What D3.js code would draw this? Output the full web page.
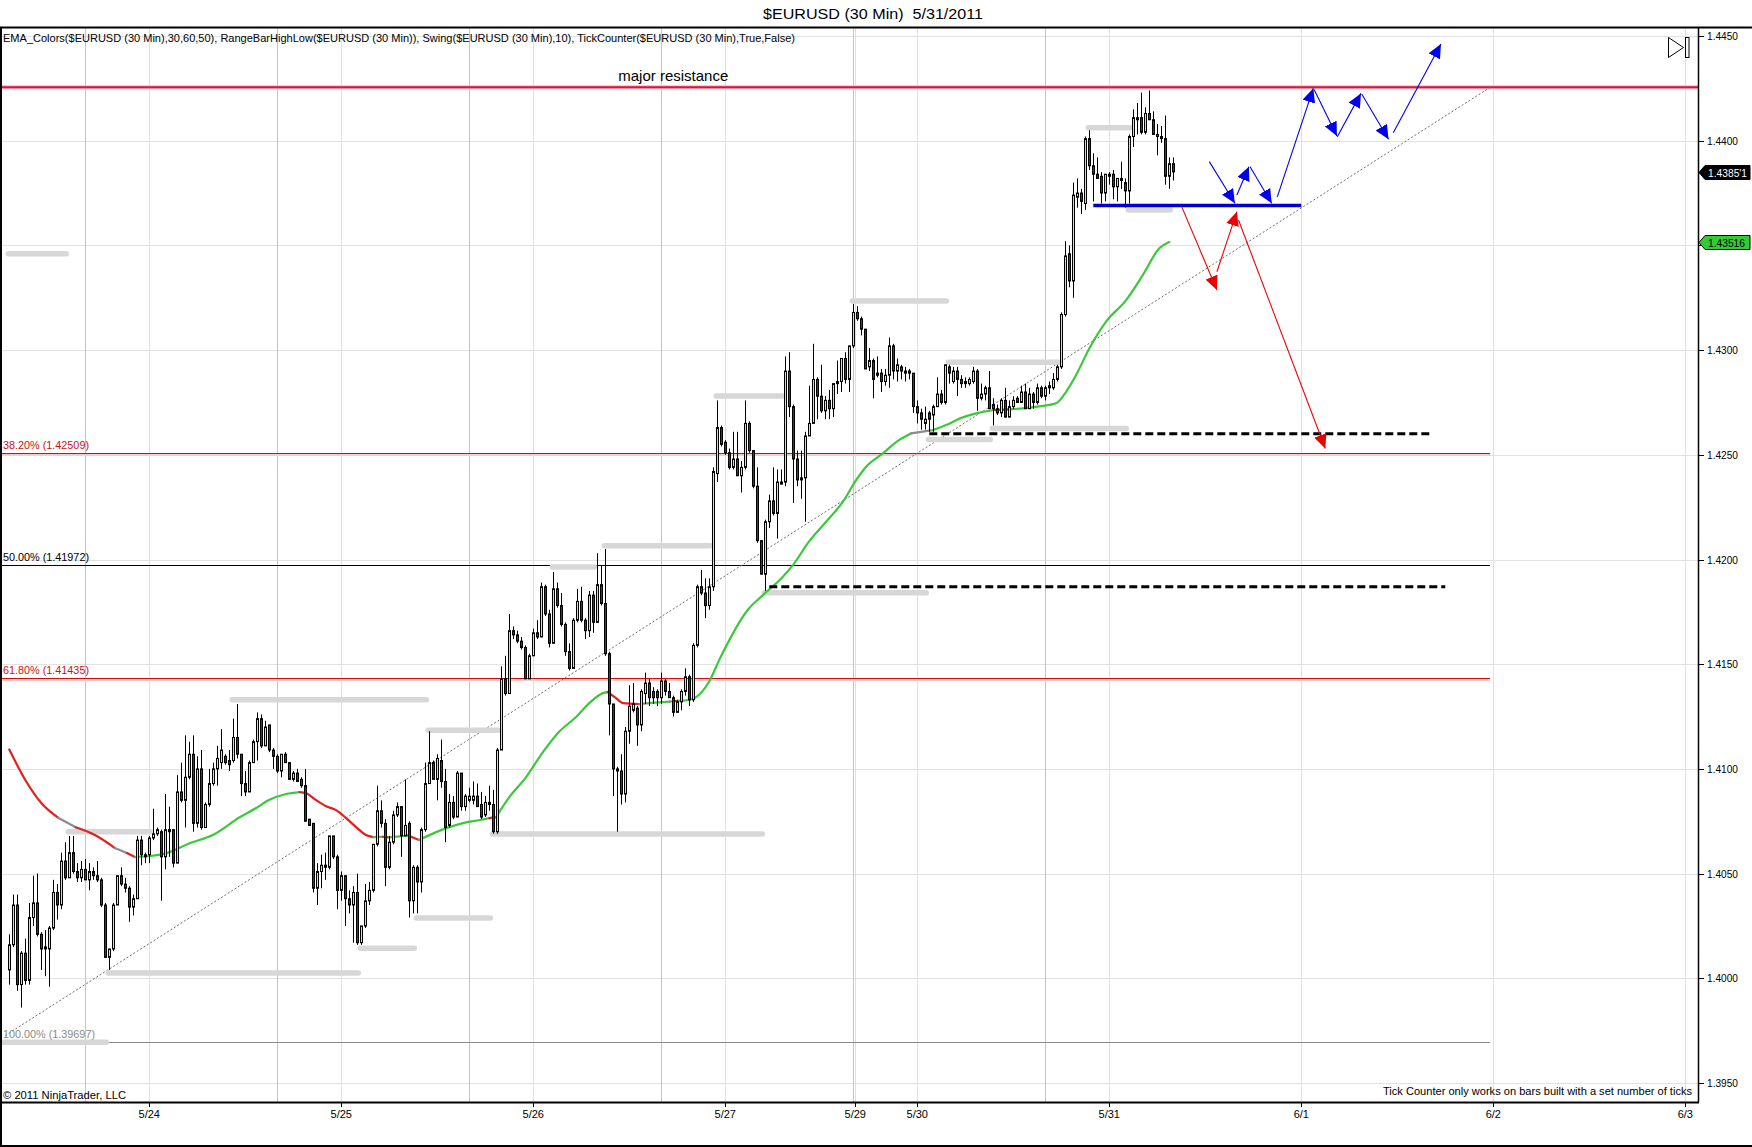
<!DOCTYPE html>
<html>
<head>
<meta charset="utf-8">
<script src="https://d3js.org/d3.v7.min.js"></script>
<style>
html, body { margin: 0; padding: 0; background: #fff; }
svg { display: block; font-family: Arial, "Liberation Sans", sans-serif; }
</style>
</head>
<body>
<script>
// ---- données (prix en pips : 4004 => 1.4004) ----
const opens = [
4004,4016,4035,3997,4012,3999,4029,4036,4021,4015,
4014,4024,4041,4035,4056,4048,4060,4051,4048,4052,
4047,4051,4049,4047,4035,4010,4014,4035,4049,4045,
4043,4034,4038,4066,4058,4059,4067,4069,4070,4058,
4071,4071,4055,4089,4085,4096,4107,4074,4100,4072,
4083,4093,4100,4103,4106,4104,4104,4115,4107,4093,
4089,4103,4113,4124,4111,4121,4109,4106,4099,4107,
4103,4095,4098,4095,4092,4076,4074,4043,4051,4053,
4053,4068,4058,4042,4049,4038,4035,4041,4017,4025,
4037,4042,4064,4080,4074,4053,4065,4078,4082,4068,
4074,4037,4053,4046,4071,4093,4103,4095,4104,4094,
4073,4084,4077,4098,4082,4085,4085,4087,4083,4078,
4083,4083,4070,4109,4143,4136,4166,4164,4161,4158,
4143,4154,4165,4163,4187,4174,4160,4186,4178,4169,
4156,4148,4171,4180,4171,4166,4183,4170,4188,4179,
4155,4131,4100,4099,4088,4118,4128,4129,4121,4136,
4141,4137,4137,4134,4142,4137,4134,4127,4132,4137,
4144,4133,4159,4187,4184,4178,4187,4241,4263,4256,
4251,4244,4248,4240,4244,4265,4252,4235,4209,4193,
4218,4228,4222,4236,4237,4290,4273,4248,4238,4239,
4259,4265,4286,4278,4271,4276,4272,4284,4285,4296,
4286,4302,4318,4315,4310,4292,4295,4289,4289,4285,
4288,4302,4290,4292,4289,4290,4289,4273,4270,4265,
4270,4269,4273,4279,4275,4292,4285,4290,4286,4284,
4284,4285,4290,4277,4279,4282,4274,4272,4270,4276,
4268,4273,4277,4275,4280,4272,4279,4275,4282,4278,
4282,4282,4286,4292,4317,4346,4333,4373,4375,4370,
4401,4388,4384,4383,4375,4383,4384,4378,4381,4380,
4376,4402,4410,4411,4404,4413,4410,4403,4402,4401,
4383,4389];

const highs = [
4021,4040,4040,4013,4019,4036,4049,4050,4022,4023,
4025,4047,4045,4060,4065,4068,4068,4055,4056,4057,
4055,4053,4056,4048,4036,4014,4036,4049,4053,4048,
4044,4040,4068,4068,4060,4068,4081,4072,4071,4088,
4082,4071,4097,4103,4116,4113,4116,4106,4109,4084,
4100,4103,4111,4119,4107,4109,4124,4131,4107,4099,
4104,4114,4127,4126,4123,4121,4110,4107,4107,4108,
4103,4099,4100,4096,4100,4076,4074,4055,4059,4060,
4068,4068,4059,4051,4049,4042,4044,4050,4025,4045,
4046,4064,4092,4085,4076,4068,4080,4084,4082,4095,
4075,4054,4054,4072,4103,4118,4104,4107,4114,4100,
4088,4087,4099,4098,4088,4091,4094,4093,4089,4087,
4092,4090,4110,4149,4154,4174,4168,4166,4163,4159,
4155,4167,4171,4189,4188,4176,4194,4189,4184,4170,
4160,4172,4186,4187,4172,4185,4185,4203,4197,4205,
4156,4131,4101,4107,4120,4140,4141,4130,4138,4146,
4143,4139,4138,4146,4143,4141,4135,4133,4138,4148,
4145,4160,4188,4195,4191,4191,4244,4276,4264,4257,
4253,4261,4261,4247,4276,4266,4252,4244,4209,4219,
4231,4244,4243,4243,4297,4299,4274,4252,4252,4261,
4283,4303,4287,4293,4278,4281,4284,4295,4296,4299,
4302,4322,4321,4316,4310,4301,4296,4297,4291,4291,
4306,4303,4296,4293,4292,4291,4289,4276,4272,4273,
4271,4274,4287,4281,4293,4293,4292,4292,4288,4287,
4287,4292,4291,4284,4283,4290,4277,4274,4277,4282,
4276,4278,4278,4283,4284,4282,4280,4284,4283,4283,
4285,4289,4293,4318,4352,4350,4380,4382,4377,4402,
4405,4394,4392,4385,4384,4385,4386,4382,4390,4382,
4403,4415,4418,4423,4416,4424,4414,4408,4407,4412,
4392,4392];

const lows = [
3997,4015,3994,3986,3997,3997,4025,4020,4004,4001,
3996,4023,4028,4033,4047,4048,4050,4046,4046,4047,
4042,4047,4046,4034,4010,4004,4013,4035,4044,4041,
4027,4030,4038,4054,4055,4055,4066,4068,4037,4052,
4058,4053,4055,4084,4072,4095,4070,4072,4071,4072,
4082,4092,4092,4100,4102,4099,4103,4105,4087,4087,
4089,4103,4104,4110,4111,4108,4100,4098,4096,4103,
4095,4094,4094,4091,4075,4073,4041,4035,4043,4047,
4052,4057,4033,4037,4025,4031,4017,4016,4016,4024,
4035,4041,4063,4072,4044,4052,4064,4077,4058,4068,
4029,4031,4031,4041,4070,4093,4095,4085,4091,4065,
4072,4076,4077,4080,4080,4084,4083,4082,4076,4077,
4080,4069,4069,4109,4135,4136,4162,4160,4157,4143,
4143,4154,4162,4163,4173,4158,4160,4177,4168,4154,
4147,4148,4170,4170,4162,4163,4165,4170,4178,4154,
4116,4087,4070,4083,4084,4112,4127,4111,4118,4131,
4130,4131,4130,4131,4135,4134,4125,4127,4128,4135,
4130,4132,4158,4183,4172,4176,4185,4237,4254,4250,
4243,4243,4240,4232,4243,4251,4234,4208,4193,4185,
4215,4221,4210,4236,4235,4268,4227,4235,4229,4218,
4259,4265,4267,4270,4267,4267,4268,4279,4280,4284,
4280,4301,4314,4307,4291,4290,4277,4287,4280,4283,
4282,4286,4285,4286,4285,4286,4270,4265,4262,4262,
4261,4261,4273,4274,4274,4284,4284,4278,4282,4282,
4283,4284,4271,4276,4276,4272,4264,4269,4268,4268,
4268,4272,4275,4275,4272,4272,4272,4274,4277,4276,
4279,4281,4285,4291,4316,4330,4325,4368,4365,4367,
4386,4371,4382,4370,4371,4379,4372,4371,4377,4368,
4370,4397,4403,4403,4403,4410,4403,4393,4399,4379,
4377,4381];

const closes = [
4016,4035,3997,4012,3999,4029,4036,4021,4014,4014,
4024,4041,4035,4056,4048,4060,4051,4048,4052,4047,
4051,4049,4047,4035,4010,4014,4035,4049,4045,4043,
4034,4038,4066,4059,4059,4067,4069,4071,4058,4071,
4070,4055,4089,4085,4096,4107,4074,4100,4072,4083,
4093,4100,4105,4109,4103,4102,4115,4107,4093,4089,
4103,4113,4124,4111,4120,4109,4106,4099,4107,4103,
4095,4098,4094,4092,4075,4073,4043,4051,4054,4054,
4068,4058,4042,4049,4038,4035,4041,4017,4025,4037,
4042,4064,4080,4074,4053,4065,4078,4082,4068,4073,
4037,4053,4046,4071,4093,4103,4095,4105,4094,4072,
4084,4077,4098,4082,4087,4087,4087,4082,4077,4084,
4084,4070,4109,4143,4136,4166,4164,4161,4158,4143,
4154,4165,4163,4187,4174,4160,4186,4178,4169,4156,
4148,4171,4180,4171,4166,4183,4170,4188,4179,4155,
4131,4100,4099,4088,4118,4130,4131,4121,4137,4141,
4134,4134,4134,4142,4137,4134,4127,4132,4137,4144,
4133,4159,4187,4184,4178,4187,4242,4263,4255,4251,
4244,4248,4240,4244,4265,4252,4235,4209,4193,4218,
4228,4222,4237,4237,4290,4273,4248,4238,4239,4259,
4265,4286,4278,4271,4276,4272,4284,4285,4296,4286,
4302,4318,4315,4310,4291,4295,4286,4288,4285,4288,
4302,4290,4293,4290,4290,4289,4273,4270,4267,4267,
4267,4273,4279,4275,4293,4289,4290,4286,4284,4285,
4286,4290,4277,4279,4282,4272,4272,4270,4276,4268,
4273,4276,4275,4280,4272,4279,4275,4282,4278,4282,
4283,4286,4292,4317,4345,4333,4374,4375,4371,4401,
4388,4384,4382,4375,4384,4384,4378,4382,4382,4376,
4402,4411,4411,4404,4413,4410,4403,4402,4401,4383,
4389,4385.1];

// EMA_Colors : points relevés (index de barre, pips) et couleur du tronçon suivant
const emaBar = [0,4,8,12.2,16.6,21.4,26.4,29.4,31.4,35.2,39.4,45.2,50.9,57.7,61.7,64.9,69.2,72.6,74.2,76.7,
  79.2,81.7,84.2,86.7,89.2,91,93.4,95,99.7,102.4,106.7,113.4,117.7,120,121.7,125,129.2,133.4,137.4,141.7,
  145,148.4,149.6,151.7,153.4,157.5,160,163.4,165,166,167.2,169.9,171.7,174.9,177.7,184.6,188.4,193.4,195.9,199.9,
  204.2,208.4,211.7,214.2,218.4,222.4,225.4,230.9,234.2,237.7,241.7,246.2,250,253.4,258.4,261.7,264.2,266.7,270,274.2,
  279.2,283.4,287.5,290];
const emaVal = [4109.3,4094.7,4083.7,4076.7,4072.1,4068.4,4062.2,4059.8,4057.9,4058.4,4059.8,4064.6,4068.4,4077,4081.3,4085.1,4088,4088.9,4088.4,4085.1,
  4082.2,4080.3,4076.5,4072.2,4068.4,4067.4,4067.6,4067.3,4068.2,4066,4069.8,4074.1,4075.6,4076.5,4077,4086.5,4096.1,4108,4117.6,4124.8,
  4131.4,4136.2,4136.7,4133.8,4131.4,4130.9,4131.4,4131.9,4132.1,4132.3,4132.5,4132.9,4134.3,4141.5,4152.9,4175.9,4183,4191.8,4197.3,4208.5,
  4218,4227.6,4237.9,4244.3,4250.7,4257,4260.2,4261.8,4264.2,4267.4,4269.8,4271.4,4271.7,4272.2,4273.4,4274.6,4280.1,4288.1,4300.8,4313.6,
  4323.9,4335.9,4348.6,4351.6];
const emaTrend = "rrrnrrnrgggggggggrrrrrrrrgrgrggggrggggggggrrrnggnrggggggggggggggggnggggrgggggggggggg".split("");

// RangeBarHighLow : barre de début, barre de fin, niveau
const grayStart = [0, 15, 25, 56, 88, 102, 105, 121, 136, 149, 177, 189, 211, 230, 235, 246, 270, 280, -2];
const grayEnd   = [14, 35, 87, 104, 101, 120, 122, 188, 146, 175, 193, 229, 234, 245, 262, 279, 280, 290, 24];
const grayLevel = [4346, 4070, 4002.5, 4133, 4014.4, 4028.8, 4118.5, 4068.9, 4196.4, 4206.6, 4278.1, 4184.1, 4323.4, 4257.3, 4294.2, 4262.6, 4406.2, 4366.9, 3969.5];

// Fibonacci
const fibLabels = ["38.20% (1.42509)", "50.00% (1.41972)", "61.80% (1.41435)", "100.00% (1.39697)"];
const fibPrices = [1.42509, 1.41972, 1.41435, 1.39697];
const fibColors = ["#cc1010", "#000000", "#cc1010", "#8a8a8a"];
const fibEndBar = 370.2;

const resistance = 1.44255;
const trendStart = [-1, 1.39727];
const trendEnd = [370.4, 1.44257];

// tracés à la main (barre, pips)
const blueArrows = [
  [300, 4390, 306.4, 4370.1], [306.9, 4374.1, 309.9, 4387.6], [310.2, 4387.6, 315.6, 4370.1],
  [317, 4373.2, 326, 4425], [326.2, 4424.5, 331.9, 4402.2], [332, 4401.9, 337.9, 4422.6],
  [338.1, 4422.3, 344.8, 4400.7], [346, 4403.8, 357.9, 4446.2]];
const redArrows = [
  [293.1, 4368.5, 301.9, 4328.7], [301.9, 4337.4, 306.9, 4366.1], [307.3, 4362.1, 329, 4253]];
const blueLevel = [271, 323, 4369];
const dashedLevels = [[230, 355, 4260], [190, 359, 4187]];

// axes
const dateLabels = ["5/24", "5/25", "5/26", "5/27", "5/29", "5/30", "5/31", "6/1", "6/2", "6/3"];
const dateBars = [35, 83, 131, 179, 211.5, 227, 275, 323, 371, 419];
const sessionBars = [19, 67, 115, 163, 211, 259];
const priceTicks = [1.395, 1.400, 1.405, 1.410, 1.415, 1.420, 1.425, 1.430, 1.435, 1.440, 1.445];

const lastPrice = 1.43851, lastPriceLabel = "1.4385'1";
const emaLast = 1.43516, emaLastLabel = "1.43516";

// ---- mise en page ----
const W = 1752, H = 1147;
const plot = { left: 0, right: 1698, top: 27, bottom: 1102 };
const px = v => 1 + v / 10000;

const svg = d3.select("body").append("svg")
    .attr("width", W)
    .attr("height", H);

svg.append("rect").attr("width", W).attr("height", H).attr("fill", "#fff");

let x = d3.scaleLinear().domain([0, 291]).range([9.3, 1173.3]);
let y = d3.scaleLinear().domain([1.395, 1.445]).range([1083, 36]);

let defs = svg.append("defs");
defs.append("clipPath").attr("id", "plotClip")
    .append("rect")
    .attr("x", plot.left).attr("y", plot.top)
    .attr("width", plot.right - plot.left).attr("height", plot.bottom - plot.top);

function arrowHead(id, color) {
    defs.append("marker")
        .attr("id", id)
        .attr("markerUnits", "userSpaceOnUse")
        .attr("markerWidth", 15).attr("markerHeight", 13)
        .attr("refX", 14).attr("refY", 6.5)
        .attr("orient", "auto")
        .append("path")
        .attr("d", "M0,0 L14,6.5 L0,13 Z")
        .attr("fill", color);
}
arrowHead("headBlue", "#0000ee");
arrowHead("headRed", "#ee0000");

let g = svg.append("g").attr("clip-path", "url(#plotClip)");

// grille horizontale
g.selectAll(".hgrid")
    .data(priceTicks)
    .enter()
    .append("line")
    .attr("x1", plot.left).attr("x2", plot.right)
    .attr("y1", d => Math.round(y(d)) + 0.5).attr("y2", d => Math.round(y(d)) + 0.5)
    .attr("stroke", "#e2e2e2");

// grille verticale : dates (claire) et sessions (plus foncée)
g.selectAll(".dgrid")
    .data(dateBars)
    .enter()
    .append("line")
    .attr("x1", d => Math.round(x(d)) + 0.5).attr("x2", d => Math.round(x(d)) + 0.5)
    .attr("y1", plot.top).attr("y2", plot.bottom)
    .attr("stroke", "#e0e0e0");

g.selectAll(".sgrid")
    .data(sessionBars)
    .enter()
    .append("line")
    .attr("x1", d => Math.round(x(d)) + 0.5).attr("x2", d => Math.round(x(d)) + 0.5)
    .attr("y1", plot.top).attr("y2", plot.bottom)
    .attr("stroke", "#c4c4c4");

// niveaux de Fibonacci
fibPrices.forEach((p, i) => {
    const yy = Math.round(y(p)) + 0.5;
    if (fibColors[i] === "#cc1010") {
        g.append("line")
            .attr("x1", plot.left).attr("x2", x(fibEndBar))
            .attr("y1", yy + 1.5).attr("y2", yy + 1.5)
            .attr("stroke", "#f6cccc").attr("stroke-width", 2);
    }
    g.append("line")
        .attr("x1", plot.left).attr("x2", x(fibEndBar))
        .attr("y1", yy).attr("y2", yy)
        .attr("stroke", fibColors[i]).attr("stroke-width", 1);
});

// résistance majeure
g.append("line")
    .attr("x1", plot.left).attr("x2", plot.right)
    .attr("y1", y(resistance)).attr("y2", y(resistance))
    .attr("stroke", "#f3b6c4").attr("stroke-width", 4);
g.append("line")
    .attr("x1", plot.left).attr("x2", plot.right)
    .attr("y1", y(resistance)).attr("y2", y(resistance))
    .attr("stroke", "#dc143c").attr("stroke-width", 2);

// ligne de tendance pointillée
g.append("line")
    .attr("x1", x(trendStart[0])).attr("y1", y(trendStart[1]))
    .attr("x2", x(trendEnd[0])).attr("y2", y(trendEnd[1]))
    .attr("stroke", "#6e6e6e").attr("stroke-width", 1)
    .attr("stroke-dasharray", "2,2");

// barres grises RangeBarHighLow
g.selectAll(".rbhl")
    .data(grayLevel)
    .enter()
    .append("line")
    .attr("x1", (d, i) => x(grayStart[i]) - 1)
    .attr("x2", (d, i) => x(grayEnd[i]) + 1)
    .attr("y1", d => y(px(d))).attr("y2", d => y(px(d)))
    .attr("stroke", "#d7d7d7").attr("stroke-width", 5.5)
    .attr("stroke-linecap", "round");

// EMA colorée
const emaPts = emaBar.map((b, i) => ({ b: b, v: px(emaVal[i]), t: emaTrend[i] }));
const runs = [];
emaPts.forEach((p, i) => {
    if (i === emaPts.length - 1) return;
    const last = runs[runs.length - 1];
    if (last && last.t === p.t) last.pts.push(emaPts[i + 1]);
    else runs.push({ t: p.t, pts: [p, emaPts[i + 1]] });
});
const emaColor = { g: "#3cc83c", r: "#e41e1e", n: "#8c8c8c" };
let emaLine = d3.line().x(d => x(d.b)).y(d => y(d.v)).curve(d3.curveMonotoneX);
g.selectAll(".ema")
    .data(runs)
    .enter()
    .append("path")
    .attr("d", d => emaLine(d.pts))
    .attr("fill", "none")
    .attr("stroke", d => emaColor[d.t])
    .attr("stroke-width", 2.2)
    .attr("stroke-linecap", "round");

// bougies
const bars = opens.map((o, i) => ({ i: i, o: px(o), h: px(highs[i]), l: px(lows[i]), c: px(closes[i]) }));
const cx = d => Math.round(x(d.i)) + 0.5;

g.selectAll(".wick")
    .data(bars)
    .enter()
    .append("line")
    .attr("x1", cx).attr("x2", cx)
    .attr("y1", d => y(d.h)).attr("y2", d => y(d.l))
    .attr("stroke", "#000").attr("stroke-width", 1);

g.selectAll(".body")
    .data(bars)
    .enter()
    .append("rect")
    .attr("x", d => cx(d) - 1)
    .attr("width", 2)
    .attr("y", d => y(Math.max(d.o, d.c)))
    .attr("height", d => Math.max(1, Math.abs(y(d.o) - y(d.c))))
    .attr("fill", d => d.c >= d.o ? "#c4e4c4" : "#8c1c1c")
    .attr("stroke", "#000").attr("stroke-width", 1);

// niveaux tracés à la main
dashedLevels.forEach(d => {
    g.append("line")
        .attr("x1", x(d[0])).attr("x2", x(d[1]))
        .attr("y1", y(px(d[2]))).attr("y2", y(px(d[2])))
        .attr("stroke", "#000").attr("stroke-width", 3)
        .attr("stroke-dasharray", "8,4");
});
g.append("line")
    .attr("x1", x(blueLevel[0])).attr("x2", x(blueLevel[1]))
    .attr("y1", y(px(blueLevel[2]))).attr("y2", y(px(blueLevel[2])))
    .attr("stroke", "#0000cc").attr("stroke-width", 3.5);

// flèches
function drawArrows(list, color, head) {
    g.selectAll(null)
        .data(list)
        .enter()
        .append("line")
        .attr("x1", d => x(d[0])).attr("y1", d => y(px(d[1])))
        .attr("x2", d => x(d[2])).attr("y2", d => y(px(d[3])))
        .attr("stroke", color).attr("stroke-width", 1.1)
        .attr("marker-end", "url(#" + head + ")");
}
drawArrows(blueArrows, "#0000ee", "headBlue");
drawArrows(redArrows, "#ee0000", "headRed");

// textes dans le graphique
g.append("text")
    .text("major resistance")
    .attr("x", x(166)).attr("y", y(resistance) - 6)
    .attr("text-anchor", "middle")
    .style("font-size", "15px")
    .attr("fill", "#000");

fibLabels.forEach((t, i) => {
    g.append("text")
        .text(t)
        .attr("x", 3).attr("y", y(fibPrices[i]) - 4)
        .attr("textLength", i === 3 ? 92 : 86).attr("lengthAdjust", "spacingAndGlyphs")
        .style("font-size", "11px")
        .attr("fill", fibColors[i]);
});

g.append("text")
    .text("EMA_Colors($EURUSD (30 Min),30,60,50), RangeBarHighLow($EURUSD (30 Min)), Swing($EURUSD (30 Min),10), TickCounter($EURUSD (30 Min),True,False)")
    .attr("x", 3).attr("y", 41.5)
    .attr("textLength", 792).attr("lengthAdjust", "spacingAndGlyphs")
    .style("font-size", "11px")
    .attr("fill", "#000");

g.append("text")
    .text("© 2011 NinjaTrader, LLC")
    .attr("x", 3).attr("y", 1099)
    .attr("textLength", 123).attr("lengthAdjust", "spacingAndGlyphs")
    .style("font-size", "11px")
    .attr("fill", "#000");

g.append("text")
    .text("Tick Counter only works on bars built with a set number of ticks")
    .attr("x", 1692).attr("y", 1094.5)
    .attr("text-anchor", "end")
    .attr("textLength", 309).attr("lengthAdjust", "spacingAndGlyphs")
    .style("font-size", "11px")
    .attr("fill", "#000");

// icône ▷| en haut à droite
svg.append("path")
    .attr("d", "M1668.5,37.5 L1683.5,47.5 L1668.5,57.5 Z")
    .attr("fill", "none").attr("stroke", "#000").attr("stroke-width", 1);
svg.append("rect")
    .attr("x", 1685.5).attr("y", 37.5).attr("width", 3.5).attr("height", 20)
    .attr("fill", "none").attr("stroke", "#000").attr("stroke-width", 1);

// axe des prix (droite)
svg.append("line")
    .attr("x1", plot.right + 0.5).attr("x2", plot.right + 0.5)
    .attr("y1", plot.top).attr("y2", plot.bottom)
    .attr("stroke", "#000").attr("stroke-width", 1.5);

svg.selectAll(".ytick")
    .data(priceTicks)
    .enter()
    .append("line")
    .attr("x1", plot.right).attr("x2", plot.right + 6)
    .attr("y1", d => Math.round(y(d)) + 0.5).attr("y2", d => Math.round(y(d)) + 0.5)
    .attr("stroke", "#000");

svg.selectAll(".ylab")
    .data(priceTicks)
    .enter()
    .append("text")
    .text(d => d3.format(".4f")(d))
    .attr("x", plot.right + 9)
    .attr("y", d => y(d) + 4)
    .attr("textLength", 31).attr("lengthAdjust", "spacingAndGlyphs")
    .style("font-size", "11px")
    .attr("fill", "#000");

// étiquettes de prix courant et d'EMA
function priceTag(p, label, fill, textColor) {
    const yy = Math.round(y(p)) + 0.5;
    svg.append("path")
        .attr("d", `M${plot.right + 1},${yy} L${plot.right + 7},${yy - 7} L${W - 2},${yy - 7} L${W - 2},${yy + 7} L${plot.right + 7},${yy + 7} Z`)
        .attr("fill", fill).attr("stroke", "#000").attr("stroke-width", 1);
    svg.append("text")
        .text(label)
        .attr("x", plot.right + 10).attr("y", yy + 4)
        .attr("textLength", label.length > 7 ? 39 : 37).attr("lengthAdjust", "spacingAndGlyphs")
        .style("font-size", "11px")
        .attr("fill", textColor);
}
priceTag(lastPrice, lastPriceLabel, "#000", "#fff");
priceTag(emaLast, emaLastLabel, "#33cc33", "#000");

// axe des dates
svg.selectAll(".xtick")
    .data(dateBars)
    .enter()
    .append("line")
    .attr("x1", d => Math.round(x(d)) + 0.5).attr("x2", d => Math.round(x(d)) + 0.5)
    .attr("y1", plot.bottom).attr("y2", plot.bottom + 5)
    .attr("stroke", "#000");

svg.selectAll(".xlab")
    .data(dateLabels)
    .enter()
    .append("text")
    .text(d => d)
    .attr("x", (d, i) => x(dateBars[i]))
    .attr("y", 1117.5)
    .attr("text-anchor", "middle")
    .style("font-size", "11px")
    .attr("fill", "#000");

// cadre
svg.append("line").attr("x1", 0).attr("x2", W).attr("y1", plot.top + 0.5).attr("y2", plot.top + 0.5)
    .attr("stroke", "#000").attr("stroke-width", 2);
svg.append("line").attr("x1", 0).attr("x2", plot.right + 1).attr("y1", plot.bottom + 0.5).attr("y2", plot.bottom + 0.5)
    .attr("stroke", "#000").attr("stroke-width", 2);
svg.append("line").attr("x1", 1).attr("x2", 1).attr("y1", plot.top).attr("y2", H)
    .attr("stroke", "#000").attr("stroke-width", 2);
svg.append("line").attr("x1", 0).attr("x2", W).attr("y1", H - 1).attr("y2", H - 1)
    .attr("stroke", "#000").attr("stroke-width", 2);

// titre
svg.append("text")
    .text("$EURUSD (30 Min)  5/31/2011")
    .attr("x", 873).attr("y", 18.5)
    .attr("text-anchor", "middle")
    .attr("textLength", 220).attr("lengthAdjust", "spacingAndGlyphs")
    .style("font-size", "15px")
    .style("white-space", "pre")
    .attr("xml:space", "preserve")
    .attr("fill", "#000");
</script>
</body>
</html>
